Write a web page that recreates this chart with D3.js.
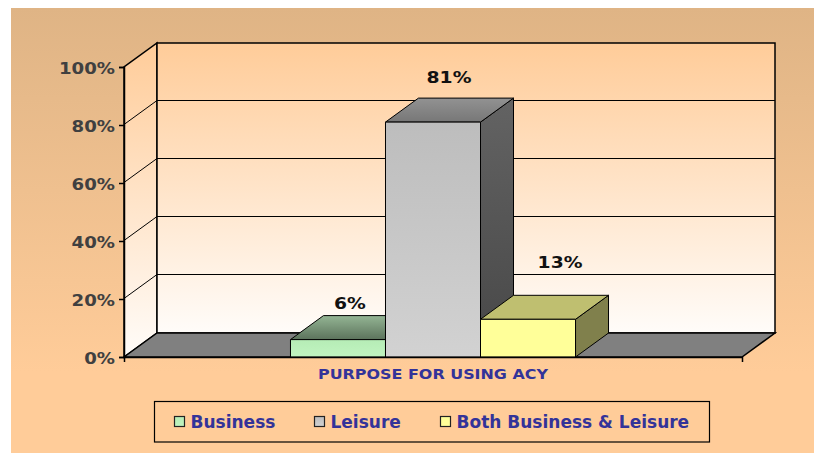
<!DOCTYPE html>
<html>
<head>
<meta charset="utf-8">
<script src="https://cdn.jsdelivr.net/npm/d3@7"></script>
<style>
html,body{margin:0;padding:0;background:#fff;}
svg{display:block;}
text{font-family:"DejaVu Sans",sans-serif;font-weight:bold;}
</style>
</head>
<body>
<div id="chart"></div>
<script>
var axisTitle = "PURPOSE FOR USING ACY";
var categories = ["Business", "Leisure", "Both Business & Leisure"];
var values = [6, 81, 13];
var valueLabels = ["6%", "81%", "13%"];
var yTicks = [0, 20, 40, 60, 80, 100];

var width = 814, height = 453;
var depthX = 33, depthY = -24;   // 3d offset of the back wall
var left = 124, right = 742, bottom = 357, top_ = 67;

// face colours for each bar: [front top, front bottom, top back, top front, side top, side bottom]
var barColors = [
	["#b6ecb6", "#c0f4c0", "#94b594", "#5c735c", "#6c8a6c", "#5c735c"],
	["#bdbdbd", "#d2d2d2", "#929292", "#777777", "#636363", "#474747"],
	["#ffff99", "#ffff99", "#bfbf70", "#bfbf70", "#80804c", "#80804c"]
];
// small hand nudges to place the data labels like the source
var labelShift = [[12, -7], [16, -15], [32, -27]];

var svg = d3.select("#chart").append("svg")
	.attr("width", width)
	.attr("height", height);
var defs = svg.append("defs");

function gradient(id, c1, c2, x2, y2){
	var g = defs.append("linearGradient").attr("id", id)
		.attr("x1", 0).attr("y1", 0).attr("x2", x2 || 0).attr("y2", y2 === undefined ? 1 : y2);
	g.append("stop").attr("offset", "0%").attr("stop-color", c1);
	g.append("stop").attr("offset", "100%").attr("stop-color", c2);
}
gradient("bg", "#dfb485", "#ffcc99", 0, 0.82);
gradient("wall", "#ffcc99", "#fffcf9");

// the source font runs wider than DejaVu, stretch the glyphs to fit
function widen(sel, k){
	sel.each(function(){
		var len = this.getComputedTextLength();
		d3.select(this).attr("textLength", len * k).attr("lengthAdjust", "spacingAndGlyphs");
	});
}

var y = d3.scaleLinear().domain([0, 100]).range([bottom, top_]);
var xGroup = d3.scaleBand().domain([axisTitle]).range([left, right]).paddingOuter(0.584);
var x = d3.scaleBand().domain(categories).range([xGroup(axisTitle), xGroup(axisTitle) + xGroup.bandwidth()]);

function pts(a){ return a.map(function(p){ return p.join(","); }).join(" "); }

// chart background
svg.append("rect").attr("x", 11).attr("y", 8)
	.attr("width", width - 11).attr("height", height - 8)
	.attr("fill", "url(#bg)");

// walls
svg.append("polygon")
	.attr("points", pts([[left, bottom], [left + depthX, bottom + depthY], [left + depthX, top_ + depthY], [left, top_]]))
	.attr("fill", "url(#wall)").attr("stroke", "#000").attr("stroke-width", 1.5);
svg.append("rect")
	.attr("x", left + depthX).attr("y", top_ + depthY)
	.attr("width", right - left).attr("height", bottom - top_)
	.attr("fill", "url(#wall)").attr("stroke", "#000").attr("stroke-width", 1.5);

// gridlines, side wall then back wall
svg.append("g").attr("transform", "translate(0,-0.5)")
	.selectAll(".grid").data(yTicks.slice(1, -1)).enter().append("polyline")
	.attr("class", "grid")
	.attr("points", function(d){
		return pts([[left, y(d)], [left + depthX, y(d) + depthY], [right + depthX, y(d) + depthY]]);
	})
	.attr("fill", "none").attr("stroke", "#000").attr("stroke-width", 1);

// floor
svg.append("polygon")
	.attr("points", pts([[left, bottom], [left + depthX, bottom + depthY], [right + depthX, bottom + depthY], [right, bottom]]))
	.attr("fill", "#808080").attr("stroke", "#000").attr("stroke-width", 1.5);

// bars, left to right so the nearer faces cover
categories.forEach(function(c, i){
	var x0 = x(c), x1 = x0 + x.bandwidth(), yt = y(values[i]), yb = y(0);
	var col = barColors[i];
	gradient("front" + i, col[0], col[1]);
	gradient("top" + i, col[2], col[3]);
	gradient("side" + i, col[4], col[5]);
	var g = svg.append("g").attr("stroke", "#000").attr("stroke-width", 1).attr("stroke-linejoin", "round");
	g.append("polygon")
		.attr("points", pts([[x1, yt], [x1 + depthX, yt + depthY], [x1 + depthX, yb + depthY], [x1, yb]]))
		.attr("fill", "url(#side" + i + ")");
	g.append("polygon")
		.attr("points", pts([[x0, yt], [x0 + depthX, yt + depthY], [x1 + depthX, yt + depthY], [x1, yt]]))
		.attr("fill", "url(#top" + i + ")");
	g.append("rect")
		.attr("x", x0).attr("y", yt)
		.attr("width", x.bandwidth()).attr("height", yb - yt)
		.attr("fill", "url(#front" + i + ")");
});

// data labels
svg.selectAll(".val").data(values).enter().append("text")
	.attr("class", "val")
	.attr("x", function(d, i){ return x(categories[i]) + x.bandwidth() / 2 + labelShift[i][0]; })
	.attr("y", function(d, i){ return y(d) + depthY + labelShift[i][1]; })
	.attr("text-anchor", "middle")
	.attr("font-size", 16)
	.attr("fill", "#111")
	.text(function(d, i){ return valueLabels[i]; })
	.call(widen, 1.17);

// y axis
var yAxis = svg.append("g")
	.attr("transform", "translate(" + left + ",0)")
	.call(d3.axisLeft(y).tickValues(yTicks).tickFormat(function(d){ return d + "%"; }).tickSize(5).tickPadding(4));
yAxis.selectAll("path,line").attr("stroke", "#000").attr("stroke-width", 1.5);
yAxis.selectAll("text").attr("font-size", 15.5).attr("fill", "#404040").attr("font-family", null).attr("dy", "0.42em")
	.call(widen, 1.17);

// x axis, the title sits in the single band
var xAxis = svg.append("g")
	.attr("transform", "translate(0," + bottom + ")")
	.call(d3.axisBottom(xGroup).tickSizeInner(0).tickSizeOuter(5).tickPadding(12));
xAxis.selectAll("path").attr("stroke", "#000").attr("stroke-width", 1.5);
xAxis.selectAll("line").remove();
xAxis.selectAll("text").attr("font-size", 13.5).attr("fill", "#333399").attr("font-family", null)
	.call(widen, 1.18);

// legend
var legendX = [174, 314, 440];
var legend = svg.append("g");
legend.append("rect").attr("x", 154.5).attr("y", 401.5).attr("width", 555).attr("height", 40.5)
	.attr("fill", "none").attr("stroke", "#000").attr("stroke-width", 1.2);
categories.forEach(function(c, i){
	gradient("swatch" + i, barColors[i][0], barColors[i][1]);
	legend.append("rect").attr("x", legendX[i] + 0.5).attr("y", 416.5).attr("width", 10).attr("height", 10)
		.attr("fill", "url(#swatch" + i + ")").attr("stroke", "#222").attr("stroke-width", 1.2);
	legend.append("text").attr("x", legendX[i] + 16.5).attr("y", 428)
		.attr("font-size", 17).attr("fill", "#333399").text(c);
});
</script>
</body>
</html>
